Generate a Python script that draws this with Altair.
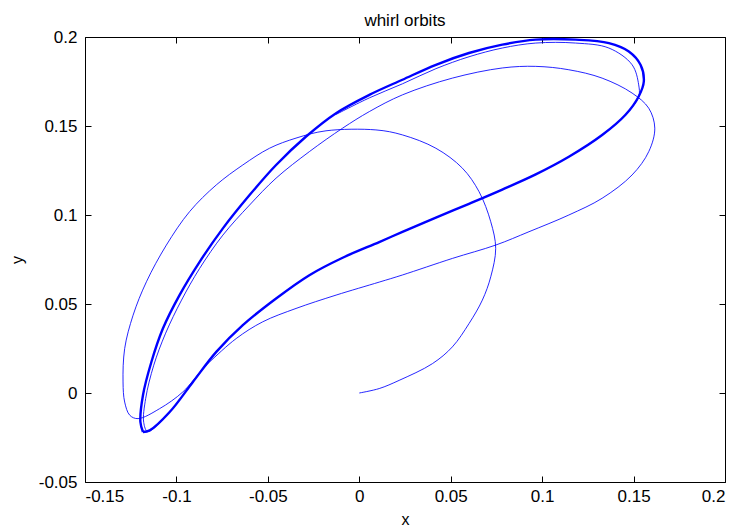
import altair as alt
import pandas as pd

# ---- trajectory (thin): initial spiral, second loop, third pass ----
traj_x = [
    # initial arc from the origin
    0.0, 0.0109, 0.0218, 0.040, 0.0509, 0.060, 0.0673, 0.0719, 0.0746, 0.0719,
    0.0655, 0.0564, 0.0419, 0.0236, 0.0091, -0.0182, -0.0346, -0.0491, -0.0637, -0.0782,
    -0.0928, -0.1055, -0.1164, -0.1237, -0.1283, -0.1292, -0.1283, -0.1255, -0.121,
    # second loop
    -0.1092, -0.0965, -0.0855, -0.0819, -0.0673, -0.0528, -0.0346, -0.0127, 0.0109, 0.0236,
    0.0509, 0.0746, 0.0928, 0.1146, 0.1328, 0.1492, 0.1583, 0.1616, 0.1583, 0.1492,
    0.1328, 0.1146, 0.0965, 0.0782, 0.0509, 0.0236, 0.0055, -0.0091, -0.0273, -0.0455,
    -0.06, -0.0746, -0.0873, -0.0972, -0.1059, -0.1124, -0.1168, -0.1179, -0.1157,
    # third pass
    -0.1037, -0.091, -0.0782, -0.0637, -0.0455, -0.0273, -0.0091, 0.0109, 0.0236, 0.0419,
    0.06, 0.0782, 0.0965, 0.1146, 0.1328, 0.1456, 0.1528, 0.1528, 0.1492, 0.1365,
    0.1183, 0.0965, 0.0782, 0.06, 0.0419, 0.0236, 0.0055, -0.0127,
]
traj_y = [
    0.0, 0.0025, 0.0071, 0.0165, 0.0259, 0.039, 0.0522, 0.0653, 0.0813, 0.0962,
    0.1131, 0.1263, 0.1375, 0.145, 0.1478, 0.1473, 0.1432, 0.1375, 0.1281, 0.1169,
    0.1019, 0.0831, 0.0625, 0.0437, 0.025, 0.0062, -0.0051, -0.0125, -0.0144,
    -0.0088, 0.0006, 0.0137, 0.0174, 0.0306, 0.04, 0.0475, 0.055, 0.0623, 0.0663,
    0.0756, 0.0831, 0.0906, 0.1, 0.1094, 0.1225, 0.1356, 0.1488, 0.16, 0.1685,
    0.1769, 0.1816, 0.1835, 0.1826, 0.1769, 0.1675, 0.1581, 0.1488, 0.1356, 0.1207,
    0.1056, 0.0887, 0.07, 0.0522, 0.0336, 0.0156, -0.003, -0.0165, -0.0216,
    -0.0107, 0.0062, 0.0231, 0.0381, 0.0531, 0.0662, 0.076, 0.0848, 0.0905, 0.0985,
    0.1063, 0.1143, 0.1228, 0.1327, 0.1449, 0.1563, 0.1666, 0.1731, 0.1844, 0.1938,
    0.1966, 0.1966, 0.1938, 0.1889, 0.1822, 0.1737, 0.1658, 0.1565,
]

# ---- limit cycle (thick) ----
cyc_x = [
    -0.1183, -0.1146, -0.1037, -0.091, -0.0782, -0.0637, -0.0455, -0.0273, -0.0091, 0.0109,
    0.0236, 0.0419, 0.06, 0.0782, 0.0965, 0.1146, 0.1328, 0.1456, 0.1528, 0.1556,
    0.1538, 0.1474, 0.1365, 0.1183, 0.0965, 0.0782, 0.06, 0.0419, 0.0236, 0.0055,
    -0.0127, -0.0291, -0.0455, -0.06, -0.0746, -0.0873, -0.0983, -0.1074, -0.1137, -0.1183,
    -0.1197, -0.1183,
]
cyc_y = [
    -0.0219, -0.021, -0.0107, 0.0062, 0.0231, 0.0381, 0.0531, 0.0662, 0.076, 0.0848,
    0.0905, 0.0985, 0.1063, 0.1143, 0.1228, 0.1327, 0.1449, 0.1563, 0.1666, 0.175,
    0.1844, 0.1919, 0.1966, 0.1985, 0.1985, 0.1957, 0.191, 0.1844, 0.176, 0.1675,
    0.1572, 0.1441, 0.1281, 0.1112, 0.0925, 0.0737, 0.055, 0.0362, 0.0174, -0.0013,
    -0.0163, -0.0219,
]

x_ticks = [-0.15, -0.1, -0.05, 0, 0.05, 0.1, 0.15, 0.2]
y_ticks = [-0.05, 0, 0.05, 0.1, 0.15, 0.2]

traj = pd.DataFrame({"x": traj_x, "y": traj_y, "i": list(range(len(traj_x)))})
cyc = pd.DataFrame({"x": cyc_x, "y": cyc_y, "i": list(range(len(cyc_x)))})

xs = alt.Scale(domain=[-0.15, 0.2], nice=False, zero=False)
ys = alt.Scale(domain=[-0.05, 0.2], nice=False, zero=False)

FONT = "Liberation Sans"
common = dict(
    domain=False, ticks=True, tickSize=6, offset=-6, tickColor="black", tickWidth=1,
    grid=False, labelFont=FONT, labelFontSize=17, labelColor="black",
    titleFont=FONT, titleFontSize=16, titleColor="black", titleFontWeight="normal",
    labelExpr="'' + datum.value",
)

xb = alt.Axis(orient="bottom", values=x_ticks, title="x", labelPadding=6, titlePadding=7, **common)
yl = alt.Axis(orient="left", values=y_ticks, title="y", labelPadding=8, titlePadding=13, **common)
xt = alt.Axis(orient="top", values=x_ticks, title=None, labels=False, **common)
yr = alt.Axis(orient="right", values=y_ticks, title=None, labels=False, **common)

thin = alt.Chart(traj).mark_line(
    color="#0000ff", strokeWidth=1, opacity=0.85, interpolate="catmull-rom"
).encode(
    x=alt.X("x:Q", scale=xs, axis=xb),
    y=alt.Y("y:Q", scale=ys, axis=yl),
    order="i:Q",
)

thick = alt.Chart(cyc).mark_line(
    color="#0000ff", strokeWidth=2.4, interpolate="catmull-rom"
).encode(
    x=alt.X("x:Q", scale=xs, axis=xt),
    y=alt.Y("y:Q", scale=ys, axis=yr),
    order="i:Q",
)

chart = (
    alt.layer(thin, thick)
    .resolve_axis(x="independent", y="independent")
    .properties(
        width=640,
        height=445,
        title=alt.TitleParams(
            "whirl orbits", font=FONT, fontSize=17, fontWeight="normal",
            color="black", offset=11, dy=26, baseline="alphabetic",
        ),
        padding={"left": 85, "top": 37, "right": 18, "bottom": 49},
        autosize=alt.AutoSizeParams(type="none"),
        background="white",
    )
    .configure_view(stroke="black", strokeWidth=1)
)

chart.save("out.html", embed_options={"renderer": "svg", "actions": False})
